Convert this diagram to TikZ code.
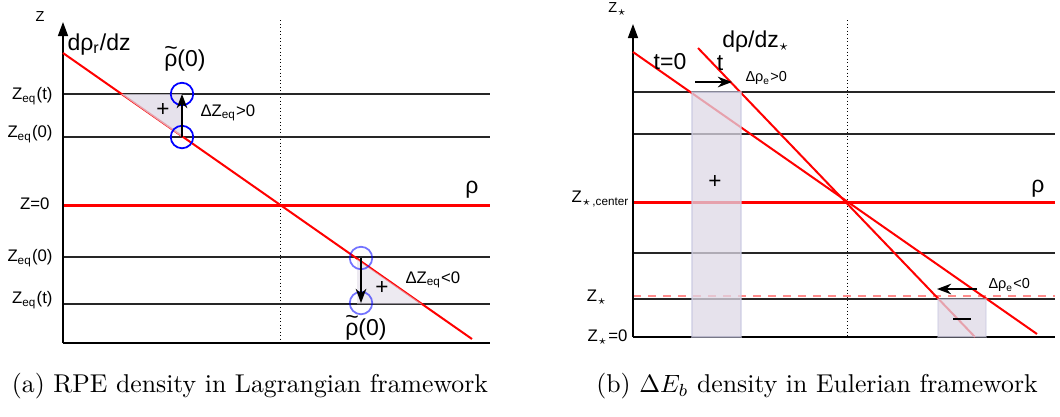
\documentclass[tikz,border=0pt]{standalone}
\usepackage{fontspec}
\newfontfamily\labfont{Liberation Sans}
\usetikzlibrary{arrows.meta}

\newcommand{\labsize}[1]{\labfont\fontsize{#1}{#1}\selectfont}
\newcommand{\rhotil}{\makebox[0pt][l]{\raisebox{0.46em}{\char"7E}}ρ}
\newcommand{\zs}{Z$_{\star}$}

\definecolor{shadecol}{RGB}{222,216,230}
\definecolor{edgecol}{RGB}{200,200,225}

\begin{document}
\begin{tikzpicture}[
    x=0.4pt, y=-0.4pt,
    >=Stealth,
    zaxis/.style={line width=0.6pt, -{Triangle[length=5.6pt, width=4pt]}},
    eqline/.style={line width=0.5pt, black!85},
    guide/.style={densely dotted, line width=0.4pt},
    profile/.style={red, line width=0.8pt},
    rholine/.style={red, line width=1.2pt},
    area/.style={fill=shadecol, fill opacity=0.75, draw=none},
    parcel/.style={circle, draw=blue, line width=0.7pt, minimum size=9pt, inner sep=0pt},
    ghost/.style={parcel, draw opacity=0.55},
    move/.style={->, line width=0.6pt},
    lbl/.style={font=\labsize{6.7}, inner sep=0pt},
    sign/.style={font=\labsize{9}, inner sep=0pt},
    smalllbl/.style={font=\labsize{5.8}, inner sep=0pt},
    biglbl/.style={font=\labsize{9.2}, inner sep=0pt},
    captxt/.style={font=\fontsize{10.3}{12}\selectfont, inner sep=0pt}
]
  \useasboundingbox (0,0) rectangle (1060,416);

  % ---------- (a) Lagrangian ----------
  \draw[guide] (280,20) -- (280,343);
  \foreach \y in {94,137,257,304}
    \draw[eqline] (63,\y) -- (490,\y);
  \draw[rholine] (63,205) -- (490,205);
  \draw[line width=0.6pt] (63,343) -- (490,343);
  \draw[zaxis] (63,343) -- (63,22);
  \draw[profile] (63,53) -- (472,339);

  % shaded areas
  \fill[area] (121,94) -- (182,94) -- (182,137) -- cycle;
  \fill[area, fill opacity=0.55] (357,259) -- (357,304) -- (422,304) -- cycle;

  % parcels
  \node[parcel] (pAt) at (182,94) {};
  \node[parcel] (pA0) at (182,137) {};
  \node[ghost] (pB0) at (361,258) {};
  \node[ghost] (pBt) at (361,303) {};
  \draw[move] (pA0.center) -- (pAt.center);
  \draw[move] (pB0.center) -- (pBt.center);

  % labels
  \node[smalllbl] (zA) at (40,17) {Z};
  \node[biglbl, anchor=west] (grA) at (67,45) {dρ\textsubscript{r}/dz};
  \node[biglbl] (rtA) at (185,59) {\rhotil(0)};
  \node[biglbl] (rtB) at (366,328) {\rhotil(0)};
  \node[sign] (plA) at (163,110) {+};
  \node[sign] (plB) at (382,288) {+};
  \node[lbl, anchor=west] (dzA) at (200,113) {ΔZ\textsubscript{eq}>0};
  \node[lbl, anchor=west] (dzB) at (405,280) {ΔZ\textsubscript{eq}<0};
  \node[biglbl] (rhoA) at (472,190) {ρ};
  \node[lbl, anchor=east] (ztA) at (53,96) {Z\textsubscript{eq}(t)};
  \node[lbl, anchor=east] (z0A) at (53,134) {Z\textsubscript{eq}(0)};
  \node[lbl, anchor=east] (zc) at (50,204) {Z=0};
  \node[lbl, anchor=east] (z0B) at (53,258) {Z\textsubscript{eq}(0)};
  \node[lbl, anchor=east] (ztB) at (53,300) {Z\textsubscript{eq}(t)};

  % ---------- (b) Eulerian ----------
  \draw[guide] (847,20) -- (847,337);
  \foreach \y in {92,134,253,299}
    \draw[eqline] (633,\y) -- (1055,\y);
  \draw[rholine] (633,202) -- (1055,202);
  \draw[red!45, dashed, line width=0.6pt] (633,296) -- (1055,296);
  \draw[line width=0.6pt] (633,337) -- (1055,337);
  \draw[zaxis] (633,337) -- (633,24);
  \draw[profile] (633,52) -- (1037,334);
  \draw[profile] (698,48) -- (975,337);

  % shaded areas
  \fill[area, draw=edgecol, draw opacity=0.6, line width=0.8pt] (692,92) rectangle (741,337);
  \fill[area, draw=edgecol, draw opacity=0.4, line width=0.6pt] (938,299) rectangle (986,337);

  % shifts
  \coordinate (upL) at (695,82);
  \coordinate (upR) at (732,82);
  \coordinate (loR) at (977,289);
  \coordinate (loL) at (937,289);
  \draw[move] (upL) -- (upR);
  \draw[move] (loR) -- (loL);

  % labels
  \node[smalllbl] (zE) at (618,9) {\zs};
  \node[biglbl] (t0) at (670,62) {t=0};
  \node[biglbl] (tt) at (720,63) {t};
  \node[biglbl] (grE) at (756,42) {dρ/dz$_{\star}$};
  \node[smalllbl, anchor=west] (drA) at (745,78) {Δρ\textsubscript{e}>0};
  \node[smalllbl, anchor=west] (drB) at (988,285) {Δρ\textsubscript{e}<0};
  \node[biglbl] (rhoE) at (1038,189) {ρ};
  \node[sign] (plE) at (715,182) {+};
  \node[sign] (miE) at (962,319) {\rule{7pt}{0.9pt}};
  \node[lbl, anchor=east] (zsc) at (630,199) {Z$_{\star}$\textsubscript{,center}};
  \node[lbl, anchor=east] (zsl) at (608,297) {\zs};
  \node[lbl, anchor=east] (zs0) at (628,337) {\zs=0};

  % captions
  \node[captxt] (capA) at (250,386) {(a) RPE density in Lagrangian framework};
  \node[captxt] (capB) at (817,386) {(b) $\Delta E_b$ density in Eulerian framework};
\end{tikzpicture}
\end{document}
